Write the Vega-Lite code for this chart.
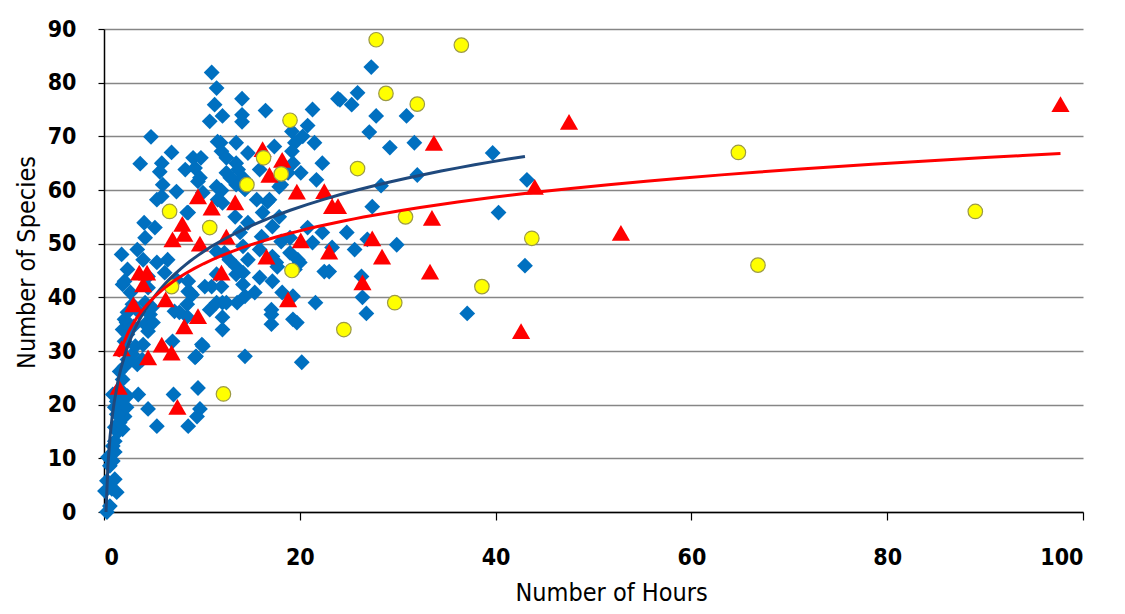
{
  "$schema": "https://vega.github.io/schema/vega-lite/v6.json",
  "autosize": "none",
  "width": 979,
  "height": 483,
  "padding": {"left": 104, "top": 29, "right": 42, "bottom": 102},
  "background": "white",
  "config": {
    "view": {"stroke": null},
    "axis": {"labelFont": "DejaVu Sans Condensed", "titleFont": "DejaVu Sans Condensed", "labelColor": "#000", "titleColor": "#000"}
  },
  "datasets": {
    "pts": [
      {"h":0.3,"s":0,"g":"blue"},{"h":0.6,"s":1.1,"g":"blue"},{"h":1.1,"s":6.1,"g":"blue"},{"h":0.3,"s":5.8,"g":"blue"},{"h":0.1,"s":3.9,"g":"blue"},{"h":0.8,"s":4.3,"g":"blue"},{"h":1.3,"s":3.7,"g":"blue"},{"h":0.6,"s":8.6,"g":"blue"},{"h":0.9,"s":9.5,"g":"blue"},{"h":0.4,"s":10.2,"g":"blue"},
      {"h":1.1,"s":11.2,"g":"blue"},{"h":0.9,"s":12.3,"g":"blue"},{"h":1.1,"s":13.2,"g":"blue"},{"h":1.4,"s":14.9,"g":"blue"},{"h":1.1,"s":15.8,"g":"blue"},{"h":1.9,"s":15.4,"g":"blue"},{"h":1.6,"s":16.7,"g":"blue"},{"h":2.1,"s":17.8,"g":"blue"},{"h":1.3,"s":18.2,"g":"blue"},{"h":1.8,"s":18.8,"g":"blue"},
      {"h":2.3,"s":19.5,"g":"blue"},{"h":1.1,"s":19.5,"g":"blue"},{"h":1.3,"s":20.6,"g":"blue"},{"h":1.9,"s":21.0,"g":"blue"},{"h":0.9,"s":21.9,"g":"blue"},{"h":2.4,"s":21.6,"g":"blue"},{"h":1.6,"s":22.9,"g":"blue"},{"h":3.5,"s":21.9,"g":"blue"},{"h":4.5,"s":19.2,"g":"blue"},{"h":5.4,"s":16.0,"g":"blue"},
      {"h":7.1,"s":21.9,"g":"blue"},{"h":9.6,"s":23.1,"g":"blue"},{"h":8.6,"s":16.0,"g":"blue"},{"h":9.8,"s":19.2,"g":"blue"},{"h":9.5,"s":17.8,"g":"blue"},{"h":1.9,"s":24.7,"g":"blue"},{"h":1.6,"s":26.2,"g":"blue"},{"h":2.1,"s":27.1,"g":"blue"},{"h":2.4,"s":28.4,"g":"blue"},{"h":2.9,"s":29.4,"g":"blue"},
      {"h":3.9,"s":28.4,"g":"blue"},{"h":3.4,"s":27.5,"g":"blue"},{"h":3.2,"s":30.9,"g":"blue"},{"h":4.0,"s":31.2,"g":"blue"},{"h":2.1,"s":31.8,"g":"blue"},{"h":2.4,"s":33.1,"g":"blue"},{"h":1.9,"s":34.0,"g":"blue"},{"h":2.3,"s":35.3,"g":"blue"},{"h":3.0,"s":34.6,"g":"blue"},{"h":4.2,"s":35.0,"g":"blue"},
      {"h":5.0,"s":35.3,"g":"blue"},{"h":4.5,"s":33.7,"g":"blue"},{"h":2.1,"s":35.9,"g":"blue"},{"h":2.4,"s":37.2,"g":"blue"},{"h":3.5,"s":37.4,"g":"blue"},{"h":4.7,"s":36.8,"g":"blue"},{"h":2.9,"s":38.7,"g":"blue"},{"h":4.2,"s":39.0,"g":"blue"},{"h":4.9,"s":38.1,"g":"blue"},{"h":7.2,"s":37.4,"g":"blue"},
      {"h":7.7,"s":37.2,"g":"blue"},{"h":8.5,"s":36.4,"g":"blue"},{"h":9.0,"s":40.5,"g":"blue"},{"h":8.6,"s":41.1,"g":"blue"},{"h":10.8,"s":37.7,"g":"blue"},{"h":11.0,"s":42.0,"g":"blue"},{"h":7.0,"s":31.8,"g":"blue"},{"h":10.0,"s":31.2,"g":"blue"},{"h":9.3,"s":28.8,"g":"blue"},{"h":1.9,"s":42.4,"g":"blue"},
      {"h":2.7,"s":40.9,"g":"blue"},{"h":4.5,"s":41.8,"g":"blue"},{"h":8.8,"s":40.9,"g":"blue"},{"h":8.5,"s":38.7,"g":"blue"},{"h":12.0,"s":42.0,"g":"blue"},{"h":13.5,"s":44.3,"g":"blue"},{"h":14.2,"s":42.4,"g":"blue"},{"h":15.4,"s":40.9,"g":"blue"},{"h":17.6,"s":46.5,"g":"blue"},{"h":18.2,"s":40.9,"g":"blue"},
      {"h":17.1,"s":37.7,"g":"blue"},{"h":17.1,"s":35.0,"g":"blue"},{"h":19.3,"s":35.9,"g":"blue"},{"h":22.5,"s":44.8,"g":"blue"},{"h":21.6,"s":39.0,"g":"blue"},{"h":20.2,"s":27.9,"g":"blue"},{"h":14.4,"s":29.0,"g":"blue"},{"h":12.1,"s":39.0,"g":"blue"},{"h":12.1,"s":36.3,"g":"blue"},{"h":12.1,"s":34.0,"g":"blue"},
      {"h":10.1,"s":30.9,"g":"blue"},{"h":9.4,"s":29.0,"g":"blue"},{"h":11.5,"s":39.0,"g":"blue"},{"h":12.5,"s":39.0,"g":"blue"},{"h":13.6,"s":39.0,"g":"blue"},{"h":14.4,"s":40.2,"g":"blue"},{"h":17.1,"s":36.8,"g":"blue"},{"h":19.3,"s":40.2,"g":"blue"},{"h":19.7,"s":35.3,"g":"blue"},{"h":11.0,"s":81.9,"g":"blue"},
      {"h":11.5,"s":79.0,"g":"blue"},{"h":11.3,"s":75.9,"g":"blue"},{"h":10.8,"s":72.8,"g":"blue"},{"h":11.6,"s":69.0,"g":"blue"},{"h":4.8,"s":69.9,"g":"blue"},{"h":6.9,"s":67.0,"g":"blue"},{"h":3.7,"s":64.9,"g":"blue"},{"h":5.9,"s":65.0,"g":"blue"},{"h":5.7,"s":63.4,"g":"blue"},{"h":9.1,"s":66.0,"g":"blue"},
      {"h":9.9,"s":66.0,"g":"blue"},{"h":8.3,"s":63.8,"g":"blue"},{"h":9.3,"s":64.1,"g":"blue"},{"h":9.8,"s":62.3,"g":"blue"},{"h":6.0,"s":61.0,"g":"blue"},{"h":7.4,"s":59.7,"g":"blue"},{"h":5.4,"s":58.2,"g":"blue"},{"h":5.9,"s":58.8,"g":"blue"},{"h":11.5,"s":60.6,"g":"blue"},{"h":8.6,"s":55.8,"g":"blue"},
      {"h":4.1,"s":53.9,"g":"blue"},{"h":5.2,"s":53.0,"g":"blue"},{"h":4.2,"s":51.1,"g":"blue"},{"h":1.8,"s":48.0,"g":"blue"},{"h":3.4,"s":48.9,"g":"blue"},{"h":4.0,"s":47.0,"g":"blue"},{"h":5.4,"s":46.5,"g":"blue"},{"h":6.5,"s":47.0,"g":"blue"},{"h":2.4,"s":45.2,"g":"blue"},{"h":2.1,"s":43.0,"g":"blue"},
      {"h":4.5,"s":43.9,"g":"blue"},{"h":6.2,"s":44.6,"g":"blue"},{"h":7.4,"s":43.3,"g":"blue"},{"h":8.6,"s":43.0,"g":"blue"},{"h":10.3,"s":42.0,"g":"blue"},{"h":11.5,"s":44.3,"g":"blue"},{"h":14.1,"s":77.0,"g":"blue"},{"h":12.1,"s":73.8,"g":"blue"},{"h":14.1,"s":74.0,"g":"blue"},{"h":16.5,"s":74.8,"g":"blue"},
      {"h":21.3,"s":75.0,"g":"blue"},{"h":23.9,"s":77.0,"g":"blue"},{"h":20.8,"s":72.0,"g":"blue"},{"h":20.3,"s":70.0,"g":"blue"},{"h":19.2,"s":70.9,"g":"blue"},{"h":21.5,"s":68.8,"g":"blue"},{"h":19.5,"s":68.8,"g":"blue"},{"h":17.4,"s":68.1,"g":"blue"},{"h":13.5,"s":68.8,"g":"blue"},{"h":11.9,"s":68.8,"g":"blue"},
      {"h":12.0,"s":67.2,"g":"blue"},{"h":12.5,"s":66.0,"g":"blue"},{"h":14.7,"s":66.9,"g":"blue"},{"h":13.5,"s":65.0,"g":"blue"},{"h":13.7,"s":63.8,"g":"blue"},{"h":13.2,"s":61.9,"g":"blue"},{"h":12.5,"s":63.2,"g":"blue"},{"h":14.2,"s":60.6,"g":"blue"},{"h":19.2,"s":67.2,"g":"blue"},{"h":19.3,"s":65.0,"g":"blue"},
      {"h":18.8,"s":63.2,"g":"blue"},{"h":20.1,"s":63.2,"g":"blue"},{"h":22.3,"s":65.0,"g":"blue"},{"h":21.7,"s":61.9,"g":"blue"},{"h":18.1,"s":61.0,"g":"blue"},{"h":12.0,"s":59.9,"g":"blue"},{"h":9.6,"s":61.6,"g":"blue"},{"h":12.1,"s":57.6,"g":"blue"},{"h":13.5,"s":61.0,"g":"blue"},{"h":16.7,"s":57.8,"g":"blue"},
      {"h":16.2,"s":55.8,"g":"blue"},{"h":8.5,"s":55.8,"g":"blue"},{"h":10.1,"s":59.5,"g":"blue"},{"h":14.1,"s":72.7,"g":"blue"},{"h":15.9,"s":63.8,"g":"blue"},{"h":12.9,"s":62.3,"g":"blue"},{"h":14.2,"s":62.3,"g":"blue"},{"h":11.6,"s":58.2,"g":"blue"},{"h":16.9,"s":58.2,"g":"blue"},{"h":14.4,"s":60.1,"g":"blue"},
      {"h":17.9,"s":60.6,"g":"blue"},{"h":15.6,"s":58.2,"g":"blue"},{"h":17.9,"s":55.0,"g":"blue"},{"h":13.4,"s":55.0,"g":"blue"},{"h":14.7,"s":53.9,"g":"blue"},{"h":17.2,"s":53.2,"g":"blue"},{"h":13.9,"s":52.1,"g":"blue"},{"h":20.8,"s":53.0,"g":"blue"},{"h":22.3,"s":52.1,"g":"blue"},{"h":16.1,"s":51.3,"g":"blue"},
      {"h":18.1,"s":50.4,"g":"blue"},{"h":19.0,"s":51.1,"g":"blue"},{"h":21.3,"s":50.2,"g":"blue"},{"h":11.5,"s":48.5,"g":"blue"},{"h":12.3,"s":48.3,"g":"blue"},{"h":14.2,"s":49.5,"g":"blue"},{"h":15.9,"s":48.9,"g":"blue"},{"h":17.2,"s":47.6,"g":"blue"},{"h":19.0,"s":48.3,"g":"blue"},{"h":12.8,"s":47.0,"g":"blue"},
      {"h":14.7,"s":47.0,"g":"blue"},{"h":19.8,"s":47.0,"g":"blue"},{"h":13.5,"s":45.7,"g":"blue"},{"h":14.2,"s":44.6,"g":"blue"},{"h":17.7,"s":45.7,"g":"blue"},{"h":19.5,"s":45.2,"g":"blue"},{"h":20.0,"s":46.5,"g":"blue"},{"h":15.9,"s":43.7,"g":"blue"},{"h":17.2,"s":43.0,"g":"blue"},{"h":27.3,"s":82.9,"g":"blue"},
      {"h":24.1,"s":76.8,"g":"blue"},{"h":25.3,"s":75.9,"g":"blue"},{"h":25.9,"s":78.1,"g":"blue"},{"h":27.8,"s":73.8,"g":"blue"},{"h":30.9,"s":73.8,"g":"blue"},{"h":27.1,"s":70.8,"g":"blue"},{"h":29.2,"s":67.9,"g":"blue"},{"h":31.7,"s":68.8,"g":"blue"},{"h":39.7,"s":66.9,"g":"blue"},{"h":32.0,"s":62.8,"g":"blue"},
      {"h":28.3,"s":60.8,"g":"blue"},{"h":43.2,"s":61.9,"g":"blue"},{"h":27.4,"s":56.9,"g":"blue"},{"h":40.3,"s":55.8,"g":"blue"},{"h":24.8,"s":52.1,"g":"blue"},{"h":26.9,"s":50.8,"g":"blue"},{"h":25.6,"s":48.9,"g":"blue"},{"h":23.3,"s":49.3,"g":"blue"},{"h":29.9,"s":49.8,"g":"blue"},{"h":23.0,"s":44.8,"g":"blue"},
      {"h":26.3,"s":43.9,"g":"blue"},{"h":26.4,"s":40.0,"g":"blue"},{"h":26.8,"s":37.0,"g":"blue"},{"h":37.1,"s":37.0,"g":"blue"},{"h":43.0,"s":45.9,"g":"blue"},
      {"h":1.5,"s":23.3,"g":"red"},{"h":1.8,"s":30.5,"g":"red"},{"h":3.0,"s":38.7,"g":"red"},{"h":3.6,"s":44.6,"g":"red"},{"h":4.4,"s":44.6,"g":"red"},{"h":4.0,"s":42.4,"g":"red"},{"h":4.5,"s":28.8,"g":"red"},{"h":5.9,"s":31.2,"g":"red"},{"h":6.9,"s":29.7,"g":"red"},{"h":6.3,"s":39.6,"g":"red"},
      {"h":7.0,"s":50.8,"g":"red"},{"h":8.0,"s":53.7,"g":"red"},{"h":8.2,"s":51.8,"g":"red"},{"h":8.2,"s":34.6,"g":"red"},{"h":7.5,"s":19.6,"g":"red"},{"h":9.6,"s":36.5,"g":"red"},{"h":9.6,"s":58.8,"g":"red"},{"h":9.8,"s":50.0,"g":"red"},{"h":11.0,"s":56.7,"g":"red"},{"h":12.0,"s":44.6,"g":"red"},
      {"h":12.5,"s":51.3,"g":"red"},{"h":13.4,"s":57.7,"g":"red"},{"h":16.2,"s":67.6,"g":"red"},{"h":16.6,"s":47.6,"g":"red"},{"h":16.9,"s":62.8,"g":"red"},{"h":18.2,"s":65.6,"g":"red"},{"h":18.8,"s":39.6,"g":"red"},{"h":19.7,"s":59.7,"g":"red"},{"h":20.1,"s":50.6,"g":"red"},{"h":22.5,"s":59.8,"g":"red"},
      {"h":23.3,"s":57,"g":"red"},{"h":23.9,"s":57,"g":"red"},{"h":23.0,"s":48.5,"g":"red"},{"h":26.4,"s":42.8,"g":"red"},{"h":27.4,"s":51,"g":"red"},{"h":28.4,"s":47.6,"g":"red"},{"h":33.7,"s":68.8,"g":"red"},{"h":33.5,"s":54.8,"g":"red"},{"h":33.3,"s":44.8,"g":"red"},{"h":42.6,"s":33.7,"g":"red"},
      {"h":44.0,"s":60.6,"g":"red"},{"h":47.5,"s":72.7,"g":"red"},{"h":52.8,"s":52,"g":"red"},{"h":97.7,"s":76,"g":"red"},
      {"h":6.7,"s":56,"g":"yellow"},{"h":6.9,"s":42,"g":"yellow"},{"h":10.8,"s":53,"g":"yellow"},{"h":12.2,"s":22,"g":"yellow"},{"h":14.6,"s":61,"g":"yellow"},{"h":16.3,"s":66,"g":"yellow"},{"h":18.1,"s":63,"g":"yellow"},{"h":19.0,"s":73,"g":"yellow"},{"h":19.2,"s":45,"g":"yellow"},{"h":24.5,"s":34,"g":"yellow"},
      {"h":25.9,"s":64,"g":"yellow"},{"h":27.8,"s":88,"g":"yellow"},{"h":28.8,"s":78,"g":"yellow"},{"h":29.7,"s":39,"g":"yellow"},{"h":30.8,"s":55,"g":"yellow"},{"h":32.0,"s":76,"g":"yellow"},{"h":36.5,"s":87,"g":"yellow"},{"h":38.6,"s":42,"g":"yellow"},{"h":43.7,"s":51,"g":"yellow"},{"h":64.8,"s":67,"g":"yellow"},
      {"h":66.8,"s":46,"g":"yellow"},{"h":89.0,"s":56,"g":"yellow"}
    ]
  },
  "data": {"name": "pts"},
  "encoding": {
    "x": {"field": "h", "type": "quantitative", "title": "Number of Hours",
      "scale": {"domain": [0, 100], "nice": false, "zero": true},
      "axis": {"values": [0, 20, 40, 60, 80, 100], "grid": false, "domainColor": "#000", "domainWidth": 1.5, "tickColor": "#000", "tickWidth": 1.2, "tickSize": 8, "labelFontSize": 23, "labelFontWeight": "bold", "labelPadding": 26, "titleFontSize": 25, "titleFontWeight": "normal", "titlePadding": 11, "titleX": 507}},
    "y": {"field": "s", "type": "quantitative", "title": "Number of Species",
      "scale": {"domain": [0, 90], "nice": false},
      "axis": {"values": [0, 10, 20, 30, 40, 50, 60, 70, 80, 90], "grid": true, "gridColor": "#868686", "gridWidth": 1.5, "gridOpacity": 1, "domainColor": "#000", "domainWidth": 1.5, "tickColor": "#000", "tickWidth": 1.2, "tickSize": 6, "labelFontSize": 23, "labelFontWeight": "bold", "labelPadding": 22, "titleFontSize": 25, "titleFontWeight": "normal", "titlePadding": 8, "titleY": 233}}
  },
  "layer": [
    {"transform": [{"filter": "datum.g === 'blue'"}],
      "mark": {"type": "point", "shape": "diamond", "filled": true, "color": "#0070C0", "size": 250, "opacity": 1}},
    {"transform": [{"filter": "datum.g === 'red'"}],
      "mark": {"type": "point", "shape": "triangle-up", "filled": true, "color": "#FF0000", "size": 330, "opacity": 1}},
    {"transform": [{"filter": "datum.g === 'yellow'"}],
      "mark": {"type": "point", "shape": "circle", "filled": true, "fill": "#FFFF00", "stroke": "#9C9A45", "strokeWidth": 1.2, "size": 210, "opacity": 1}},
    {"transform": [{"filter": "datum.g === 'blue'"}, {"regression": "s", "on": "h", "method": "log", "extent": [0.18, 43]}],
      "mark": {"type": "line", "color": "#1F497D", "strokeWidth": 3, "clip": true}},
    {"transform": [{"filter": "datum.g === 'red'"}, {"regression": "s", "on": "h", "method": "log", "extent": [1.5, 97.7]}],
      "mark": {"type": "line", "color": "#FF0000", "strokeWidth": 3, "clip": true}}
  ]
}
